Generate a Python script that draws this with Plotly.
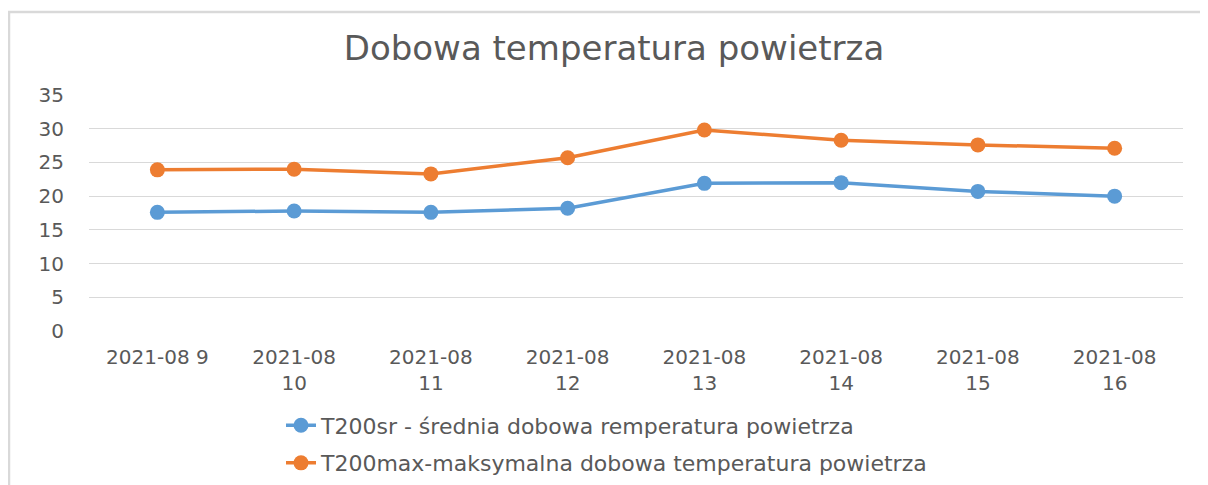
import plotly.graph_objects as go

dates = ["2021-08 9", "2021-08 10", "2021-08 11", "2021-08 12",
         "2021-08 13", "2021-08 14", "2021-08 15", "2021-08 16"]
tick_labels = ["2021-08 9", "2021-08<br>10", "2021-08<br>11", "2021-08<br>12",
               "2021-08<br>13", "2021-08<br>14", "2021-08<br>15", "2021-08<br>16"]
t_mean = [17.6, 17.8, 17.6, 18.2, 21.9, 22.0, 20.7, 20.0]
t_max = [23.9, 24.0, 23.3, 25.7, 29.8, 28.3, 27.6, 27.1]
name_mean = "T200sr - średnia dobowa remperatura powietrza"
name_max = "T200max-maksymalna dobowa temperatura powietrza"
title_text = "Dobowa temperatura powietrza"
y_ticks = [0, 5, 10, 15, 20, 25, 30, 35]

BLUE = "#5B9BD5"
ORANGE = "#ED7D31"
GRAY = "#595959"
FONT = "DejaVu Sans"

# page body adds an 8px offset; figure is sized so that the total is 1208x485
W, H = 1200, 477
L, T, PW, PH = 81, 87, 1094, 236

fig = go.Figure()
fig.add_trace(go.Scatter(x=dates, y=t_mean, mode="lines+markers", name=name_mean,
                         line=dict(color=BLUE, width=3.5),
                         marker=dict(color=BLUE, size=15), legendgroup="a"))
fig.add_trace(go.Scatter(x=dates, y=t_max, mode="lines+markers", name=name_max,
                         line=dict(color=ORANGE, width=3.5),
                         marker=dict(color=ORANGE, size=15), legendgroup="b"))

fig.update_layout(
    width=W, height=H,
    margin=dict(l=L, r=W - L - PW, t=T, b=H - T - PH, autoexpand=False),
    paper_bgcolor="white", plot_bgcolor="white",
    font=dict(family=FONT, color=GRAY),
    title=dict(text=title_text, x=0.505, xanchor="center", xref="container",
               y=1 - 40 / H, yanchor="middle", yref="container",
               font=dict(family=FONT, size=34, color=GRAY)),
    showlegend=True,
    legend=dict(orientation="v", x=0.2275, xanchor="left", xref="container",
                y=0.085, yanchor="middle", yref="container",
                font=dict(family=FONT, size=22, color=GRAY),
                tracegroupgap=6, bgcolor="rgba(0,0,0,0)"),
    xaxis=dict(type="category", tickvals=dates, ticktext=tick_labels,
               showgrid=False, showline=False, zeroline=False,
               ticks="", ticklabelstandoff=12, tickangle=0,
               tickfont=dict(family=FONT, size=20, color=GRAY),
               range=[-0.5, len(dates) - 0.5]),
    yaxis=dict(range=[0, 35], tickvals=y_ticks, showgrid=True,
               gridcolor="#D9D9D9", gridwidth=1, zeroline=False,
               showline=False, ticks="", ticklabelstandoff=24,
               tickfont=dict(family=FONT, size=20, color=GRAY)),
    shapes=[dict(type="rect", xref="paper", yref="paper",
                 x0=(1 - L) / PW, x1=(W + 30 - L) / PW,
                 y0=(T + PH - H - 40) / PH, y1=(T + PH - 4) / PH,
                 line=dict(color="#D9D9D9", width=2.5), fillcolor="rgba(0,0,0,0)",
                 layer="below")],
)

fig.write_html("out.html")
